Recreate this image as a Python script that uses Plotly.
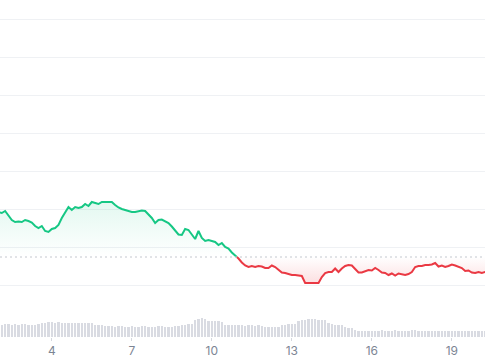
import pandas as pd
import plotly.graph_objects as go

# ---- data ----
times = pd.date_range("2024-03-02 00:00", periods=148, freq="3h")

price = [
    188, 187, 189, 184, 180, 178, 178.5, 178, 180, 179,
    177.5, 174, 172, 174, 169, 168, 171, 172, 175, 182,
    188, 193, 190, 193, 192, 193, 196, 194, 198, 197,
    196, 198, 198, 198.5, 198, 195, 192.5, 191, 190, 188.5,
    188, 188, 189, 189.5, 189, 186, 182, 177, 180, 180.5,
    179, 177, 173.5, 169.5, 165.5, 165, 171, 170, 166, 161,
    169, 162, 159, 160, 159, 158, 155, 157, 153, 151.5,
    147.5, 144.5, 141.5, 137.5, 134.5, 133, 134, 133, 134, 133.5,
    132, 132, 134.5, 133, 130, 127.5, 127, 126, 125, 125,
    124.5, 124, 117, 117, 117, 117.5, 117, 123, 127, 128,
    128, 131.5, 128, 131.5, 134, 135, 134.5, 131, 127.5, 127.5,
    129, 130, 129.5, 132, 130, 127.5, 127, 125, 126.5, 124.5,
    126.5, 126, 125, 126, 128, 133, 134, 134, 135, 135,
    135.5, 137, 133.5, 134.5, 133, 134, 135.5, 134.5, 133, 132,
    129, 129.5, 127.5, 127, 128, 127, 128, 128,
]

volume = (
    [130, 128, 132, 130, 127, 131, 129, 133, 130]
    + [125, 124, 126]
    + [135, 140]
    + [145, 150, 152, 148, 150, 146]
    + [142, 140, 144]
    + [145, 143, 146, 144, 142, 140]
    + [125, 122, 120, 118, 115]
    + [112, 108, 110, 111, 107, 109, 110, 106, 108, 110,
       112, 109, 107, 108, 111, 110, 108, 106, 109, 111]
    + [118, 125, 128, 130, 132]
    + [175, 188, 190, 186]
    + [165, 160, 162, 164, 158]
    + [125, 122, 124, 120, 123, 121, 119, 122, 120, 118, 121, 117]
    + [108, 106, 104, 103, 105]
    + [125, 128, 130, 132, 135]
    + [160, 172, 178, 180, 182, 180, 178, 175, 170]
    + [140, 130, 128, 125, 122]
    + [100, 95, 90]
    + [70, 68, 66, 67, 69, 68, 65, 67, 70, 68, 66, 69, 71, 68, 67, 66,
       68, 70, 72, 69, 68, 66, 67, 65, 68, 69, 67, 66, 68, 67, 65, 64,
       66, 68, 67, 65, 66, 64, 63, 65, 64]
)

baseline = 143
tick_days = ["2024-03-04", "2024-03-07", "2024-03-10", "2024-03-13", "2024-03-16", "2024-03-19"]
tick_labels = ["4", "7", "10", "13", "16", "19"]
grid_vals = [115, 153, 191, 229, 267, 305, 343, 381]

n = min(len(times), len(price), len(volume))
times = list(times[:n])
price = price[:n]
volume = volume[:n]

# split where the price crosses the baseline
i = next(k for k, p in enumerate(price) if p < baseline)
frac = (price[i - 1] - baseline) / (price[i - 1] - price[i])
t_cross = times[i - 1] + frac * (times[i] - times[i - 1])

gx = times[:i] + [t_cross]
gy = price[:i] + [baseline]
rx = [t_cross] + times[i:]
ry = [baseline] + price[i:]

GREEN = "#16c784"
RED = "#ea3943"

fig = go.Figure()

fig.add_trace(go.Bar(
    x=times, y=volume, yaxis="y2",
    marker=dict(color="#d9dbe2", line=dict(width=0)),
    width=3 * 3600 * 1000 * 0.72, hoverinfo="skip",
))

fig.add_trace(go.Scatter(x=gx, y=[baseline] * len(gx), mode="lines",
                         line=dict(width=0, color="rgba(0,0,0,0)"), hoverinfo="skip"))
fig.add_trace(go.Scatter(
    x=gx, y=gy, mode="lines", fill="tonexty",
    line=dict(color=GREEN, width=2),
    fillgradient=dict(type="vertical", start=baseline, stop=max(gy),
                      colorscale=[[0, "rgba(22,199,132,0)"], [1, "rgba(22,199,132,0.12)"]]),
))

fig.add_trace(go.Scatter(x=rx, y=[baseline] * len(rx), mode="lines",
                         line=dict(width=0, color="rgba(0,0,0,0)"), hoverinfo="skip"))
fig.add_trace(go.Scatter(
    x=rx, y=ry, mode="lines", fill="tonexty",
    line=dict(color=RED, width=2),
    fillgradient=dict(type="vertical", start=min(ry), stop=baseline,
                      colorscale=[[0, "rgba(234,57,67,0.16)"], [1, "rgba(234,57,67,0)"]]),
))

fig.add_shape(type="line", xref="paper", x0=0, x1=1, yref="y", y0=baseline, y1=baseline,
              line=dict(color="#c3c7ce", width=1, dash="2px,3px"), layer="above")

fig.update_layout(
    width=485, height=360,
    margin=dict(l=0, r=0, t=0, b=23),
    paper_bgcolor="white", plot_bgcolor="rgba(0,0,0,0)",
    showlegend=False,
    bargap=0,
    font=dict(family="Inter, Roboto, sans-serif", size=12, color="#7c8594"),
    xaxis=dict(
        range=["2024-03-02 01:23", "2024-03-20 05:50"],
        tickvals=tick_days, ticktext=tick_labels,
        showgrid=False, zeroline=False, showline=False,
        ticks="outside", ticklen=3, tickcolor="#d5d8de", tickwidth=1,
        tickfont=dict(size=12, color="#7c8594"),
    ),
    yaxis=dict(
        domain=[0, 1], range=[63, 400],
        tickvals=grid_vals, showticklabels=False,
        showgrid=True, gridcolor="#eff1f4", gridwidth=1,
        zeroline=False, showline=False,
    ),
    yaxis2=dict(
        domain=[0, 0.2], range=[0, 674], anchor="x",
        showgrid=False, showticklabels=False, zeroline=False, showline=False,
    ),
)

fig.write_html("out.html")
